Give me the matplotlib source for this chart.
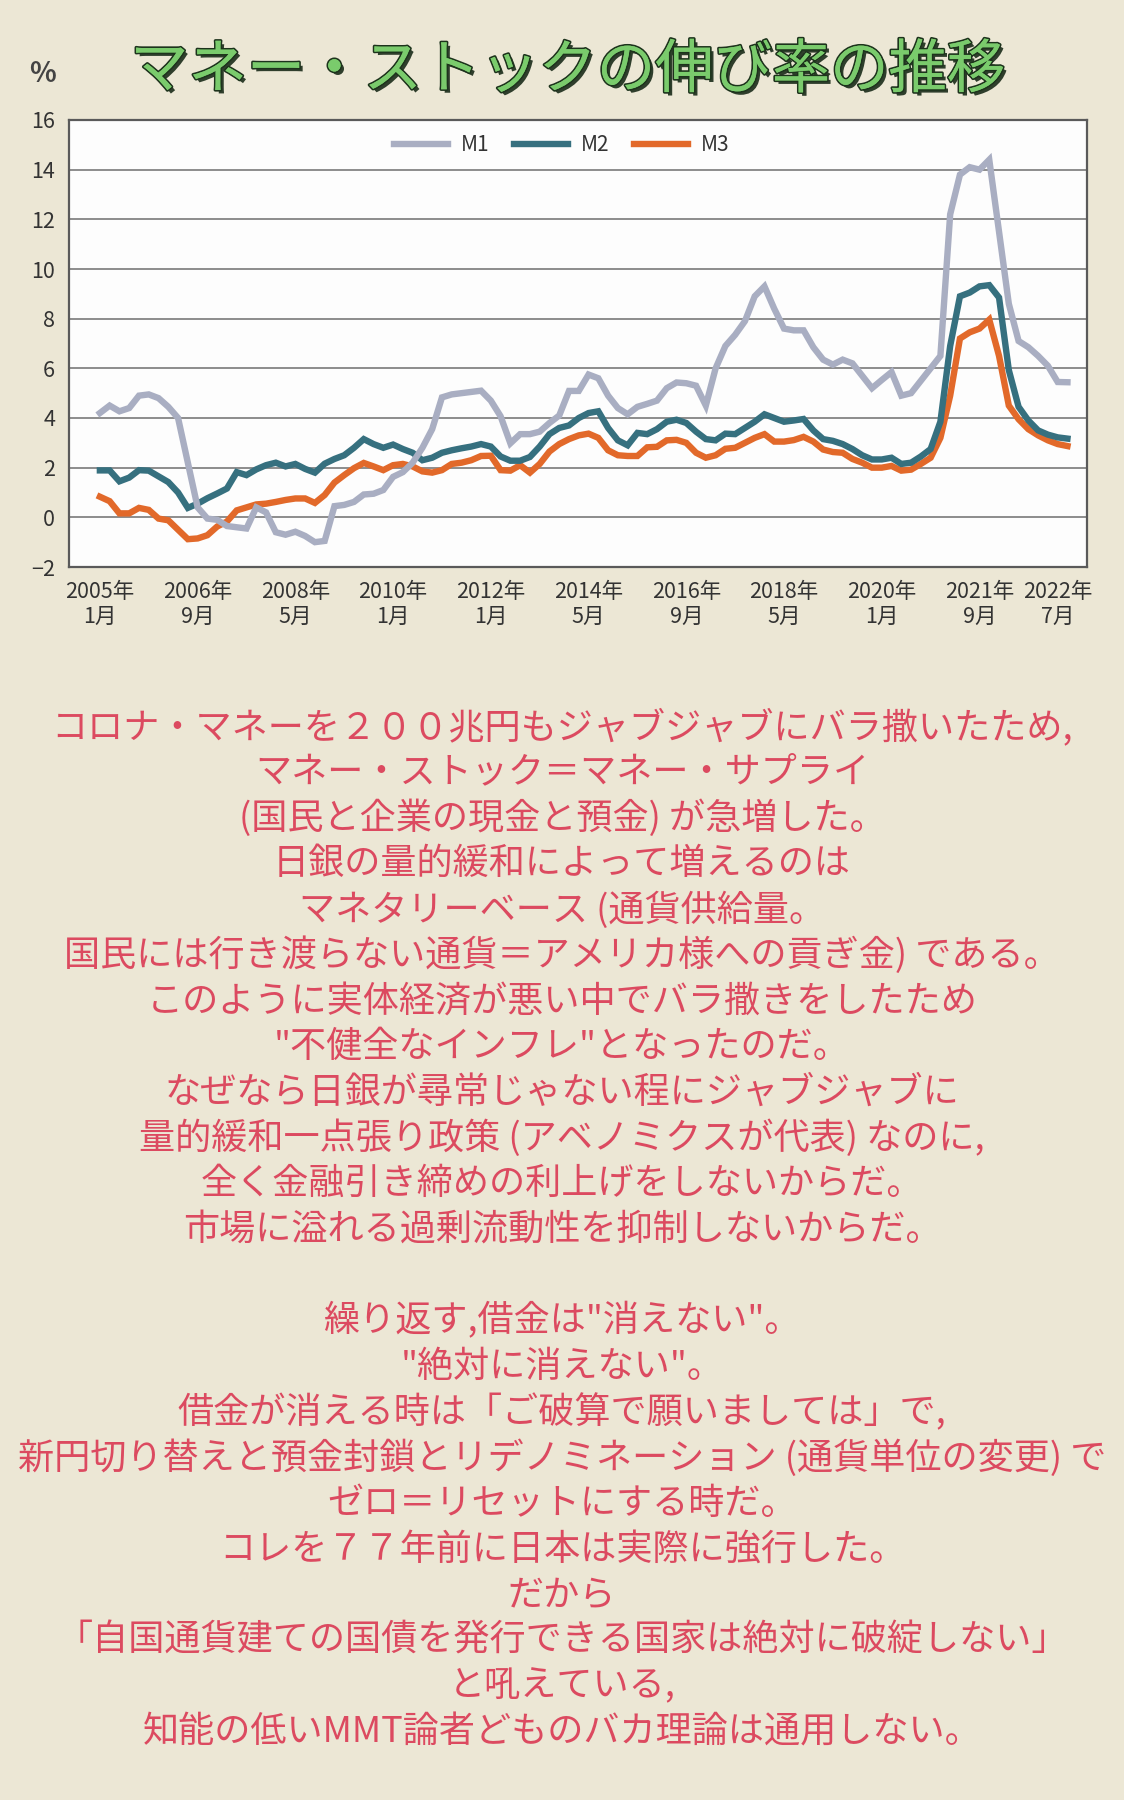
import numpy as np
import matplotlib
matplotlib.use('Agg')
import matplotlib.pyplot as plt
import matplotlib.patheffects as pe

plt.rcParams['font.family'] = ['Noto Sans CJK JP', 'DejaVu Sans']

# growth rates (%), one point per step of the source chart
m1 = [4.2, 4.5, 4.27, 4.4, 4.9, 4.95, 4.8, 4.45, 4.0, 2.2,
      0.4, -0.05, -0.1, -0.35, -0.4, -0.45, 0.4, 0.2, -0.6, -0.7,
      -0.58, -0.75, -1.0, -0.95, 0.45, 0.5, 0.62, 0.92, 0.95, 1.1,
      1.63, 1.82, 2.2, 2.8, 3.55, 4.83, 4.95, 5.0, 5.05, 5.1,
      4.7, 4.07, 2.98, 3.35, 3.35, 3.45, 3.8, 4.1, 5.09, 5.09,
      5.75, 5.6, 4.9, 4.4, 4.15, 4.45, 4.57, 4.7, 5.2, 5.43,
      5.4, 5.3, 4.5, 6.0, 6.9, 7.35, 7.9, 8.9, 9.3, 8.4,
      7.6, 7.53, 7.53, 6.85, 6.35, 6.15, 6.35, 6.2, 5.7, 5.2,
      5.53, 5.85, 4.9, 5.0, 5.5, 6.0, 6.5, 12.2, 13.8, 14.1,
      14.0, 14.4, 11.5, 8.6, 7.1, 6.85, 6.5, 6.1, 5.45, 5.44]
m2 = [1.89, 1.89, 1.45, 1.6, 1.9, 1.88, 1.65, 1.42, 1.0, 0.38,
      0.55, 0.77, 0.96, 1.16, 1.82, 1.7, 1.93, 2.1, 2.2, 2.05,
      2.15, 1.95, 1.8, 2.16, 2.35, 2.5, 2.8, 3.15, 2.95, 2.8,
      2.93, 2.75, 2.6, 2.3, 2.4, 2.6, 2.7, 2.78, 2.85, 2.95,
      2.85, 2.45, 2.28, 2.28, 2.43, 2.85, 3.35, 3.6, 3.7, 4.0,
      4.2, 4.27, 3.6, 3.1, 2.9, 3.4, 3.35, 3.55, 3.85, 3.93,
      3.8, 3.45, 3.15, 3.1, 3.37, 3.35, 3.6, 3.85, 4.15, 4.0,
      3.85, 3.9, 3.96, 3.5, 3.15, 3.08, 2.95, 2.75, 2.5, 2.33,
      2.33, 2.4, 2.15, 2.2, 2.45, 2.75, 3.85, 6.9, 8.9, 9.05,
      9.3, 9.35, 8.85, 5.93, 4.45, 3.9, 3.5, 3.33, 3.22, 3.17]
m3 = [0.83, 0.65, 0.16, 0.16, 0.38, 0.3, -0.05, -0.12, -0.5, -0.88,
      -0.85, -0.72, -0.37, -0.17, 0.28, 0.4, 0.52, 0.55, 0.62, 0.7,
      0.76, 0.76, 0.58, 0.9, 1.4, 1.7, 1.98, 2.19, 2.05, 1.9,
      2.1, 2.15, 2.05, 1.85, 1.8, 1.9, 2.15, 2.2, 2.3, 2.47,
      2.48, 1.9, 1.88, 2.1, 1.8, 2.15, 2.65, 2.95, 3.15, 3.3,
      3.37, 3.2, 2.7, 2.5, 2.47, 2.47, 2.82, 2.84, 3.1, 3.12,
      3.0, 2.6, 2.4, 2.5, 2.76, 2.8, 3.0, 3.2, 3.35, 3.05,
      3.05, 3.11, 3.24, 3.05, 2.73, 2.63, 2.6, 2.35, 2.2, 2.0,
      2.0, 2.07, 1.88, 1.92, 2.15, 2.4, 3.2, 4.9, 7.2, 7.45,
      7.6, 7.96, 6.5, 4.5, 3.95, 3.55, 3.3, 3.1, 2.95, 2.87]

tick_pos = [0, 10, 20, 30, 40, 50, 60, 70, 80, 90, 98]
tick_labels = ['2005年\n1月', '2006年\n9月', '2008年\n5月', '2010年\n1月',
               '2012年\n1月', '2014年\n5月', '2016年\n9月', '2018年\n5月',
               '2020年\n1月', '2021年\n9月', '2022年\n7月']

title = 'マネー・ストックの伸び率の推移'

body_lines = [
    'コロナ・マネーを２００兆円もジャブジャブにバラ撒いたため,',
    'マネー・ストック＝マネー・サプライ',
    '(国民と企業の現金と預金) が急増した。',
    '日銀の量的緩和によって増えるのは',
    'マネタリーベース (通貨供給量。',
    '国民には行き渡らない通貨＝アメリカ様への貢ぎ金) である。',
    'このように実体経済が悪い中でバラ撒きをしたため',
    '"不健全なインフレ"となったのだ。',
    'なぜなら日銀が尋常じゃない程にジャブジャブに',
    '量的緩和一点張り政策 (アベノミクスが代表) なのに,',
    '全く金融引き締めの利上げをしないからだ。',
    '市場に溢れる過剰流動性を抑制しないからだ。',
    '',
    '繰り返す,借金は"消えない"。',
    '"絶対に消えない"。',
    '借金が消える時は「ご破算で願いましては」で,',
    '新円切り替えと預金封鎖とリデノミネーション (通貨単位の変更) で',
    'ゼロ＝リセットにする時だ。',
    'コレを７７年前に日本は実際に強行した。',
    'だから',
    '「自国通貨建ての国債を発行できる国家は絶対に破綻しない」',
    'と吼えている,',
    '知能の低いMMT論者どものバカ理論は通用しない。',
]

bg = '#ece7d5'
fig = plt.figure(figsize=(11.24, 18), dpi=100, facecolor=bg)
ax = fig.add_axes([69 / 1124, 1 - 567 / 1800, 1018 / 1124, 447 / 1800])
ax.set_facecolor('#fdfdfd')

x = np.arange(len(m1))
ax.plot(x, m3, color='#e2692a', lw=4.6, label='M3', zorder=3, solid_joinstyle='miter')
ax.plot(x, m2, color='#36707f', lw=4.6, label='M2', zorder=4, solid_joinstyle='miter')
ax.plot(x, m1, color='#a9aec2', lw=4.6, label='M1', zorder=5, solid_joinstyle='miter')

ax.set_xlim(-3.16, 101.0)
ax.set_ylim(-2, 16)
ax.set_yticks(range(-2, 17, 2))
ax.set_yticklabels(['−2' if v == -2 else str(v) for v in range(-2, 17, 2)])
ax.set_xticks(tick_pos)
ax.set_xticklabels(tick_labels, linespacing=1.15)
ax.tick_params(axis='both', length=0, labelsize=15.5, colors='#333333')
ax.tick_params(axis='y', pad=10)
ax.tick_params(axis='x', pad=10)
ax.grid(axis='y', color='#7a7a7a', lw=1.2, zorder=1)
for s in ax.spines.values():
    s.set_color('#5a5a5a')
    s.set_linewidth(1.6)

h, l = ax.get_legend_handles_labels()
order = [2, 1, 0]
ax.legend([h[i] for i in order], [l[i] for i in order], loc='center',
          bbox_to_anchor=(0.484, 0.944), ncol=3, frameon=False, fontsize=15,
          handlelength=2.6, handletextpad=0.6, columnspacing=1.2,
          labelcolor='#333333')

fig.text(42 / 1124, 1 - 74 / 1800, '%', ha='center', va='center', fontsize=20,
         fontweight='bold', color='#444444')
fig.text(568 / 1124, 1 - 71 / 1800, title, ha='center', va='center', fontsize=42,
         fontweight='normal', color='#7acb6c',
         path_effects=[pe.SimplePatchShadow(offset=(2.5, -2.5), shadow_rgbFace='#1a2b19', alpha=0.9),
                       pe.withStroke(linewidth=2.4, foreground='#1d331c'),
                       pe.Normal()])

y0 = 1 - 727 / 1800
step = 45.7 / 1800
for k, line in enumerate(body_lines):
    if line:
        fig.text(0.5, y0 - k * step, line, ha='center', va='center',
                 fontsize=26, color='#dc4a60')

fig.savefig('out.png', dpi=100, facecolor=bg)
